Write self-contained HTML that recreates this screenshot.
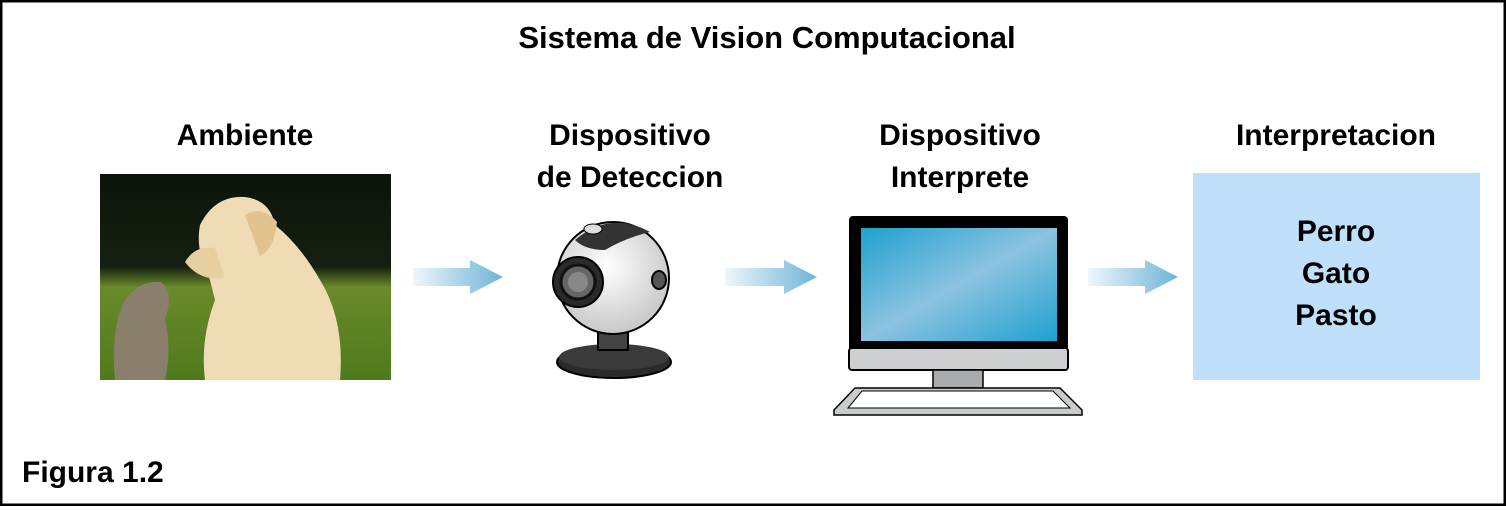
<!DOCTYPE html>
<html><head><meta charset="utf-8"><style>
html,body{margin:0;padding:0;background:#fff}
svg text{font-family:"Liberation Sans","DejaVu Sans",sans-serif;fill:#000;font-weight:bold}
</style></head><body>
<svg width="1506" height="506" viewBox="0 0 1506 506" xmlns="http://www.w3.org/2000/svg">
<defs>
<linearGradient id="ar" x1="0" x2="1" y1="0" y2="0"><stop offset="0" stop-color="#eef6fb"/><stop offset="1" stop-color="#6fb4d8"/></linearGradient>
<linearGradient id="scr" x1="0" y1="0" x2="1" y2="1"><stop offset="0" stop-color="#1ea1cf"/><stop offset="0.5" stop-color="#8cc3e0"/><stop offset="1" stop-color="#1ea1cf"/></linearGradient>
<radialGradient id="ball" cx="0.45" cy="0.4" r="0.6"><stop offset="0" stop-color="#fff"/><stop offset="1" stop-color="#c8c8c8"/></radialGradient>
<linearGradient id="sky" x1="0" y1="0" x2="0" y2="1"><stop offset="0" stop-color="#0c140a"/><stop offset="0.45" stop-color="#142010"/><stop offset="0.55" stop-color="#6a8a2a"/><stop offset="1" stop-color="#4f7a1c"/></linearGradient>
<clipPath id="pc"><rect x="100" y="174" width="291" height="206"/></clipPath>
</defs>
<rect x="1" y="1" width="1504" height="504" fill="#fff" stroke="#000" stroke-width="3"/>
<text x="767" y="48" font-size="31" text-anchor="middle">Sistema de Vision Computacional</text>
<g font-size="30" text-anchor="middle">
<text x="245" y="145">Ambiente</text>
<text x="630" y="145">Dispositivo</text>
<text x="630" y="187">de Deteccion</text>
<text x="960" y="145">Dispositivo</text>
<text x="960" y="187">Interprete</text>
<text x="1336" y="145">Interpretacion</text>
</g>
<!-- photo -->
<g clip-path="url(#pc)">
<rect x="100" y="174" width="291" height="206" fill="url(#sky)"/>
<path d="M210 280 Q195 250 200 225 Q215 195 245 197 Q270 200 275 225 Q300 245 320 280 Q345 320 340 380 L205 380 Q200 340 215 300 Z" fill="#efdcb4"/>
<path d="M185 262 Q195 245 215 248 L225 278 Q200 282 185 262 Z" fill="#e8cfa0"/>
<path d="M245 215 Q262 205 277 222 Q274 250 260 256 Z" fill="#e2c28e"/>
<path d="M125 300 Q140 280 160 282 Q175 290 165 320 Q172 350 165 380 L115 380 Q110 330 125 300 Z" fill="#8a7e6c"/>
</g>
<!-- arrows -->
<g fill="url(#ar)">
<path d="M413 268 H470 V260 L503 277 L470 294 V286 H413 Z"/>
<path d="M725 268 H784 V260 L817 277 L784 294 V286 H725 Z"/>
<path d="M1088 268 H1145 V260 L1178 277 L1145 294 V286 H1088 Z"/>
</g>
<!-- webcam -->
<ellipse cx="614" cy="362" rx="57" ry="16" fill="#2a2a2a" stroke="#000" stroke-width="2"/>
<ellipse cx="614" cy="357" rx="55" ry="13" fill="#3a3a3a"/>
<rect x="598" y="330" width="30" height="20" fill="#444" stroke="#000" stroke-width="2"/>
<circle cx="613" cy="278" r="56" fill="url(#ball)" stroke="#000" stroke-width="2"/>
<path d="M575 240 Q610 210 650 232 Q625 238 605 250 Q585 250 575 240 Z" fill="#333"/>
<ellipse cx="593" cy="229" rx="9" ry="5" fill="#ddd" stroke="#000"/>
<circle cx="578" cy="282" r="25" fill="#2a2a2a" stroke="#000" stroke-width="2"/>
<circle cx="578" cy="282" r="17" fill="#666" stroke="#111" stroke-width="3"/>
<circle cx="578" cy="282" r="10" fill="#888"/>
<ellipse cx="659" cy="280" rx="7" ry="9" fill="#555" stroke="#000" stroke-width="2"/>
<!-- monitor -->
<rect x="849" y="216" width="219" height="154" rx="4" fill="#000"/>
<rect x="861" y="228" width="196" height="113" fill="url(#scr)"/>
<rect x="849" y="348" width="219" height="22" rx="3" fill="#cdd0d1" stroke="#000" stroke-width="2"/>
<rect x="933" y="370" width="50" height="18" fill="#a9abac" stroke="#000" stroke-width="1.5"/>
<path d="M855 388 H1060 L1082 410 V415 H834 V410 Z" fill="#c9cccd" stroke="#000" stroke-width="1.5"/>
<path d="M862 391 H1053 L1070 408 H848 Z" fill="#fff" stroke="#000" stroke-width="1"/>
<!-- output box -->
<rect x="1193" y="173" width="287" height="207" fill="#bfdffb"/>
<g font-size="30" text-anchor="middle">
<text x="1336" y="241">Perro</text>
<text x="1336" y="283">Gato</text>
<text x="1336" y="325">Pasto</text>
</g>
<text x="22" y="482" font-size="30">Figura 1.2</text>
</svg>
</body></html>
